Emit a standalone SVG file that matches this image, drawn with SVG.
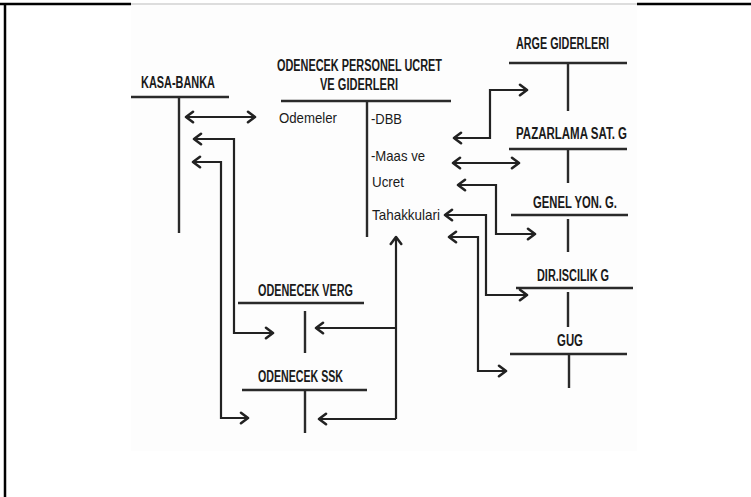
<svg xmlns="http://www.w3.org/2000/svg" width="751" height="497" viewBox="0 0 751 497">
<defs>
<marker id="ah" markerUnits="userSpaceOnUse" markerWidth="14" markerHeight="14" refX="9" refY="6" orient="auto-start-reverse" viewBox="0 0 12 12">
<path d="M3,1.5 L9,6 L3,10.5" fill="none" stroke="#222" stroke-width="2.2" stroke-linecap="round" stroke-linejoin="round"/>
</marker>
</defs>
<style>
.t{font-family:"Liberation Sans",Arial,sans-serif;font-weight:bold;font-size:16px;fill:#1a1a1a}
.r{font-family:"Liberation Sans",Arial,sans-serif;font-size:15px;fill:#1a1a1a}
.bar{stroke:#2a2a2a;stroke-width:2.4;fill:none}
.c{stroke:#222;stroke-width:2.2;fill:none;stroke-linejoin:miter}
.both{marker-start:url(#ah);marker-end:url(#ah)}
.end{marker-end:url(#ah)}
</style>
<rect width="751" height="497" fill="#ffffff"/>
<rect x="131" y="5" width="506" height="446" fill="#fdfdfd"/>
<g id="frame">
<line x1="0" y1="4" x2="131" y2="4" stroke="#000" stroke-width="2.5"/>
<line x1="131" y1="4" x2="637" y2="4" stroke="#bbb" stroke-width="1"/>
<line x1="637" y1="4" x2="751" y2="4" stroke="#000" stroke-width="2.5"/>
<line x1="5" y1="3" x2="5" y2="497" stroke="#000" stroke-width="2.5"/>
</g>
<g id="kasa-banka">
<text class="t" x="141" y="88" textLength="74" lengthAdjust="spacingAndGlyphs">KASA-BANKA</text>
<line class="bar" x1="131" y1="97" x2="229" y2="97"/>
<line class="bar" x1="179" y1="97" x2="179" y2="233"/>
</g>
<g id="odenecek-personel">
<text class="t" x="277" y="70.5" textLength="165" lengthAdjust="spacingAndGlyphs">ODENECEK PERSONEL UCRET</text>
<text class="t" x="320" y="90" textLength="78" lengthAdjust="spacingAndGlyphs">VE GIDERLERI</text>
<line class="bar" x1="281" y1="101" x2="451" y2="101"/>
<line class="bar" x1="367" y1="101" x2="367" y2="237"/>
<text class="r" x="279" y="123" textLength="58" lengthAdjust="spacingAndGlyphs">Odemeler</text>
<text class="r" x="371" y="124" textLength="31" lengthAdjust="spacingAndGlyphs">-DBB</text>
<text class="r" x="371" y="161" textLength="54" lengthAdjust="spacingAndGlyphs">-Maas ve</text>
<text class="r" x="372" y="187" textLength="32" lengthAdjust="spacingAndGlyphs">Ucret</text>
<text class="r" x="372" y="220" textLength="68" lengthAdjust="spacingAndGlyphs">Tahakkulari</text>
</g>
<g id="arge">
<text class="t" x="516" y="49" textLength="93" lengthAdjust="spacingAndGlyphs">ARGE GIDERLERI</text>
<line class="bar" x1="509" y1="63" x2="627" y2="63"/>
<line class="bar" x1="568" y1="63" x2="568" y2="111"/>
</g>
<g id="pazarlama">
<text class="t" x="516" y="139" textLength="111" lengthAdjust="spacingAndGlyphs">PAZARLAMA SAT. G</text>
<line class="bar" x1="509" y1="149" x2="627" y2="149"/>
<line class="bar" x1="568" y1="149" x2="568" y2="183"/>
</g>
<g id="genel-yon">
<text class="t" x="533" y="208" textLength="84" lengthAdjust="spacingAndGlyphs">GENEL YON. G.</text>
<line class="bar" x1="511" y1="215" x2="628" y2="215"/>
<line class="bar" x1="568" y1="219" x2="568" y2="252"/>
</g>
<g id="dir-iscilik">
<text class="t" x="537" y="281" textLength="72" lengthAdjust="spacingAndGlyphs">DIR.ISCILIK G</text>
<line class="bar" x1="516" y1="288" x2="633" y2="288"/>
<line class="bar" x1="568" y1="292" x2="568" y2="327"/>
</g>
<g id="gug">
<text class="t" x="557" y="346" textLength="26" lengthAdjust="spacingAndGlyphs">GUG</text>
<line class="bar" x1="510" y1="354" x2="627" y2="354"/>
<line class="bar" x1="569" y1="354" x2="569" y2="388"/>
</g>
<g id="odenecek-verg">
<text class="t" x="258" y="296" textLength="95" lengthAdjust="spacingAndGlyphs">ODENECEK VERG</text>
<line class="bar" x1="238" y1="303" x2="364" y2="303"/>
<line class="bar" x1="305" y1="311" x2="305" y2="353"/>
</g>
<g id="odenecek-ssk">
<text class="t" x="258" y="382" textLength="85" lengthAdjust="spacingAndGlyphs">ODENECEK SSK</text>
<line class="bar" x1="242" y1="390" x2="367" y2="390"/>
<line class="bar" x1="305" y1="390" x2="305" y2="433"/>
</g>
<g id="connectors">
<path class="c both" d="M186,117 H255"/>
<path class="c both" d="M194,139 H234 V333 H273"/>
<path class="c both" d="M193,162 H221 V418 H248"/>
<path class="c end" d="M396,419 V237"/>
<path class="c end" d="M396,328 H316"/>
<path class="c end" d="M396,419 H319"/>
<path class="c both" d="M454,138 H490 V90 H527"/>
<path class="c both" d="M453,163 H519"/>
<path class="c both" d="M458,185 H496 V234 H535"/>
<path class="c both" d="M445,215 H486 V295 H527"/>
<path class="c both" d="M449,237 H478 V371 H506"/>
</g>
</svg>
